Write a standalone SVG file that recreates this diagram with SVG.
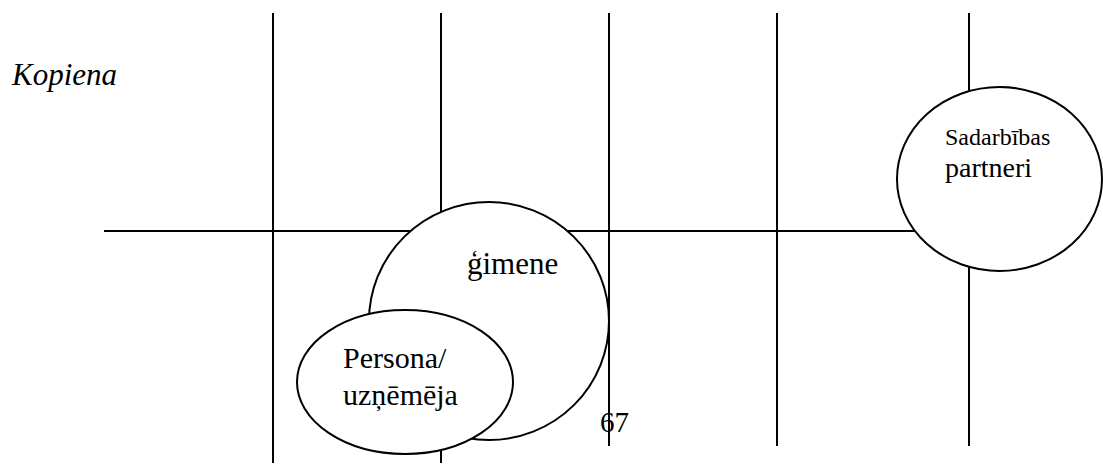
<svg xmlns="http://www.w3.org/2000/svg" width="1103" height="465" viewBox="0 0 1103 465">
<style>
.ln{stroke:#000;stroke-width:2;fill:none}
.sh{stroke:#000;stroke-width:2;fill:#fff}
.t{font-family:"Liberation Serif","Times New Roman",serif;fill:#000}
</style>
<rect width="1103" height="465" fill="#fff"/>
<g id="connectors">
<line class="ln" x1="104" y1="231" x2="916" y2="231"/>
<line class="ln" x1="273" y1="13" x2="273" y2="463"/>
<line class="ln" x1="441" y1="13" x2="441" y2="463"/>
<line class="ln" x1="777" y1="13" x2="777" y2="446"/>
<line class="ln" x1="969" y1="13" x2="969" y2="446"/>
</g>
<text id="kopiena" class="t" x="12" y="85" font-size="31" font-style="italic">Kopiena</text>
<g id="gimene">
<ellipse class="sh" cx="489" cy="321" rx="120" ry="119"/>
<text class="t" x="467" y="274" font-size="31">ģimene</text>
</g>
<g id="persona">
<ellipse class="sh" cx="405" cy="382" rx="108" ry="72"/>
<text class="t" x="343" y="368" font-size="30">Persona/</text>
<text class="t" x="343" y="405" font-size="30">uzņēmēja</text>
</g>
<g id="partneri">
<ellipse class="sh" cx="999.5" cy="179" rx="102.5" ry="92"/>
<text class="t" x="945" y="145" font-size="24">Sadarbības</text>
<text class="t" x="945" y="177" font-size="28">partneri</text>
</g>
<line class="ln" x1="609" y1="13" x2="609" y2="446"/>
<text id="page" class="t" x="600" y="432" font-size="29">67</text>
</svg>
